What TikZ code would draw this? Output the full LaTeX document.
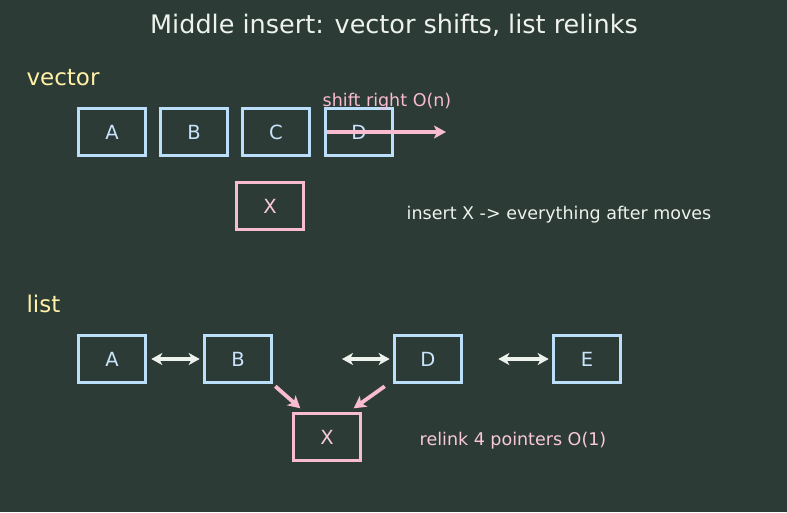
\documentclass[tikz,border=0pt]{standalone}
\usepackage{fontspec}
\setmainfont{DejaVu Sans}
\usetikzlibrary{arrows.meta}

\definecolor{bg}{HTML}{2C3B35}
\definecolor{cellblue}{HTML}{BBDEFB}
\definecolor{hot}{HTML}{F8BBD0}
\definecolor{lbl}{HTML}{FFF1A6}
\definecolor{ink}{HTML}{EEF2EC}

\begin{document}
\begin{tikzpicture}[x=1pt,y=-1pt,
  cell/.style={draw=cellblue,line width=3.6pt,minimum width=67pt,minimum height=47pt,
    inner sep=0pt,text=cellblue!80!white,font=\fontsize{19.5}{22}\selectfont},
  newcell/.style={cell,draw=hot,text=hot!80!white},
  part/.style={text=lbl,font=\fontsize{23}{26}\selectfont,anchor=west},
  note/.style={font=\fontsize{17.5}{20}\selectfont},
  shiftarrow/.style={draw=hot,line width=3.8pt,-{Stealth[length=12pt,width=13pt,inset=3pt]}},
  relink/.style={draw=hot,line width=3.8pt,-{Stealth[length=12pt,width=13pt,inset=3pt]}},
  link/.style={draw=ink,line width=3.2pt,{Stealth[length=11pt,width=12pt,inset=3pt]}-{Stealth[length=11pt,width=12pt,inset=3pt]}}]
\fill[bg] (0,0) rectangle (787,512);

\node[text=ink,font=\fontsize{25.5}{30}\selectfont] (title) at (394,25) {Middle insert: vector shifts, list relinks};

% vector
\node[part] (vec) at (23,78) {vector};
\node[cell] (va) at (112,132) {A};
\node[cell] (vb) at (194,132) {B};
\node[cell] (vc) at (276,132) {C};
\node[cell] (vd) at (359,132) {D};
\node[newcell] (vx) at (270,206) {X};
\coordinate (shiftend) at (446,132);
\draw[shiftarrow] (vd.west) ++(3,0) -- (shiftend);
\node[note,text=hot] (shiftlbl) at (387,102) {shift right O(n)};
\node[note,text=ink] (vnote) at (559,215) {insert X -> everything after moves};

% list
\node[part] (lst) at (23,304) {list};
\node[cell] (la) at (112,359) {A};
\node[cell] (lb) at (238,359) {B};
\node[cell] (ld) at (428,359) {D};
\node[cell] (le) at (587,359) {E};
\node[newcell] (lx) at (327,437) {X};
\coordinate (gap) at (342,359);
\draw[link,shorten <=4pt,shorten >=3pt] (la.east) -- (lb.west);
\draw[link,shorten >=3pt] (gap) -- (ld.west);
\draw[link,shorten <=35pt,shorten >=3pt] (ld.east) -- (le.west);
\draw[relink] (lb.south east) ++(2,2) -- ++(25,22);
\draw[relink] (ld.south west) ++(-8,2) -- ++(-31,22);
\node[note,text=hot!80!white] (lnote) at (513,441) {relink 4 pointers O(1)};
\end{tikzpicture}
\end{document}
